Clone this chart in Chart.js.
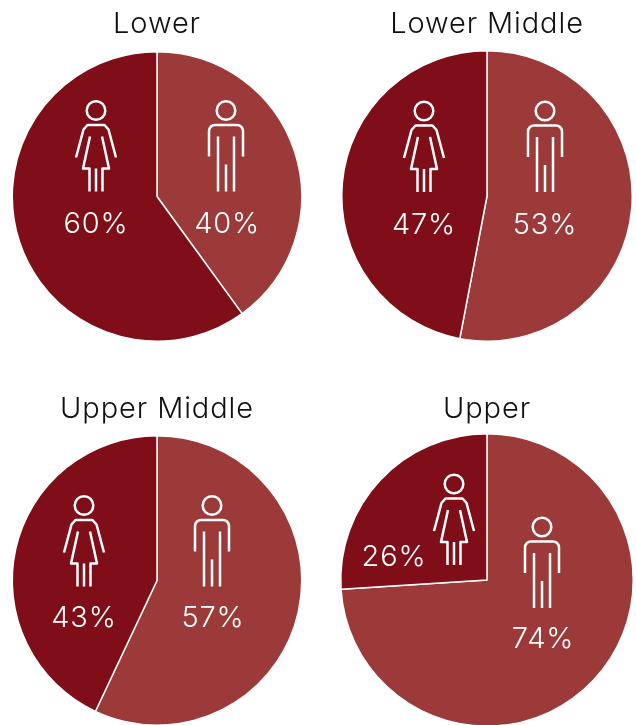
<!DOCTYPE html>
<html>
<head>
<meta charset="utf-8">
<title>Gender split by class</title>
<script src="https://cdn.jsdelivr.net/npm/chart.js@4"></script>
<style>
  html, body { margin: 0; padding: 0; background: #fff; overflow: hidden; }
  #page { position: relative; width: 636px; height: 725px; overflow: hidden; }
  canvas { position: absolute; }
</style>
</head>
<body>
<div id="page">
  <canvas id="pie0" width="298" height="335" style="left:8px;top:7px"></canvas>
  <canvas id="pie1" width="298" height="335" style="left:338px;top:7px"></canvas>
  <canvas id="pie2" width="298" height="335" style="left:8px;top:391px"></canvas>
  <canvas id="pie3" width="298" height="335" style="left:338px;top:392px"></canvas>
</div>
<script>
// Values
const categories = ["Men", "Women"];
const panelTitles = ["Lower", "Lower Middle", "Upper Middle", "Upper"];
const menShare = [40, 53, 57, 74];
const womenShare = [60, 47, 43, 26];

const menColor = "#9c3a39";
const womenColor = "#7f0e18";
const fontName = "Inter, Lato, sans-serif";

// Space above and below each title, so titles and pies land where they do in the picture
const titleTops = [1, 1, 2, 1];
const titleGaps = [11, 10, 10, 8];

// Offsets from each pie's centre: [icon dx, head dy, label dx, label dy]
const manSpots = [[69, -86, 70, 28], [58, -85, 58, 29], [55, -75, 56, 38], [55, -53, 56, 59]];
const womanSpots = [[-61, -86, -61, 28], [-63, -85, -63, 29], [-73, -75, -73, 38], [-33, -96, -93, -23]];

function strokePath(ctx, points) {
  ctx.beginPath();
  points.forEach((p, i) => {
    if (i === 0) ctx.moveTo(p[0], p[1]);
    else ctx.lineTo(p[0], p[1]);
  });
  ctx.stroke();
}

function drawHead(ctx) {
  ctx.beginPath();
  ctx.arc(0, 0, 9.3, 0, Math.PI * 2);
  ctx.stroke();
}

function drawWoman(ctx) {
  drawHead(ctx);
  strokePath(ctx, [[-20, 47], [-12.5, 19], [-8.5, 14.5], [8.5, 14.5], [12.5, 19], [20, 47]]);
  strokePath(ctx, [[-6, 26], [-13, 58], [-6.5, 58], [-6.5, 81]]);
  strokePath(ctx, [[6, 26], [13, 58], [6.5, 58], [6.5, 81]]);
  strokePath(ctx, [[0, 58], [0, 81]]);
}

function drawMan(ctx) {
  drawHead(ctx);
  ctx.beginPath();
  ctx.moveTo(-17, 46);
  ctx.lineTo(-17, 21);
  ctx.arcTo(-17, 14.5, -10, 14.5, 6);
  ctx.lineTo(10, 14.5);
  ctx.arcTo(17, 14.5, 17, 21, 6);
  ctx.lineTo(17, 46);
  ctx.stroke();
  strokePath(ctx, [[-8, 26], [-8, 81]]);
  strokePath(ctx, [[8, 26], [8, 81]]);
  strokePath(ctx, [[0, 54], [0, 81]]);
}

// Draws the person icon and the percentage over a slice
function drawFigure(ctx, cx, cy, spot, value, drawIcon) {
  ctx.save();
  ctx.translate(cx + spot[0], cy + spot[1]);
  ctx.strokeStyle = "#fff";
  ctx.lineWidth = 2.5;
  ctx.lineJoin = "round";
  drawIcon(ctx);
  ctx.restore();

  ctx.save();
  ctx.fillStyle = "#fff";
  ctx.font = "300 29px " + fontName;
  ctx.letterSpacing = "0.8px";
  ctx.textAlign = "center";
  ctx.textBaseline = "middle";
  ctx.fillText(value + "%", cx + spot[2], cy + spot[3]);
  ctx.restore();
}

const figuresPlugin = {
  id: "figures",
  beforeDraw(chart) {
    chart.ctx.letterSpacing = "0.9px";
  },
  afterDraw(chart, args, opts) {
    const area = chart.chartArea;
    const cx = (area.left + area.right) / 2;
    const cy = (area.top + area.bottom) / 2;
    const i = opts.index;
    drawFigure(chart.ctx, cx, cy, manSpots[i], menShare[i], drawMan);
    drawFigure(chart.ctx, cx, cy, womanSpots[i], womenShare[i], drawWoman);
  },
};

panelTitles.forEach((title, i) => {
  new Chart(document.getElementById("pie" + i), {
    type: "pie",
    data: {
      labels: categories,
      datasets: [
        {
          data: [menShare[i], womenShare[i]],
          backgroundColor: [menColor, womenColor],
          borderColor: "#fff",
          borderWidth: 1.5,
        },
      ],
    },
    options: {
      responsive: false,
      animation: false,
      plugins: {
        legend: { display: false },
        tooltip: { enabled: false },
        title: {
          display: true,
          text: title,
          color: "#111",
          font: { family: fontName, size: 29, weight: "300", lineHeight: "32px" },
          padding: { top: titleTops[i], bottom: titleGaps[i] },
        },
        figures: { index: i },
      },
    },
    plugins: [figuresPlugin],
  });
});
</script>
</body>
</html>
